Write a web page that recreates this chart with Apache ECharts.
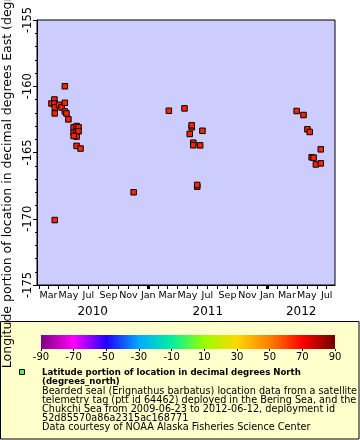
<!DOCTYPE html>
<html><head><meta charset="utf-8">
<script src="https://cdn.jsdelivr.net/npm/echarts@6/dist/echarts.min.js"></script>
<style>html,body{margin:0;padding:0;background:#fff}#c{width:360px;height:440px}</style>
</head><body><div id="c"></div>
<script>
// ---- data ----
const dates = [
  '2010-04-20','2010-03-19','2010-03-10','2010-03-19','2010-03-20','2010-03-20','2010-04-02','2010-04-10',
  '2010-04-20','2010-04-20','2010-04-25','2010-05-01','2010-05-17','2010-05-17','2010-05-26','2010-06-01',
  '2010-05-26','2010-06-01','2010-05-26','2010-05-17','2010-05-26','2010-06-07','2010-03-20','2010-11-17',
  '2011-03-05','2011-04-22','2011-05-14','2011-05-14','2011-05-08','2011-06-16','2011-05-19','2011-05-19',
  '2011-06-09','2011-05-31','2011-05-31',
  '2012-03-31','2012-04-21','2012-05-03','2012-05-10','2012-06-13','2012-05-16','2012-05-22','2012-05-29','2012-06-13'
];
const lons = [
  -160.0,-161.0,-161.3,-161.3,-161.6,-162.05,-161.4,-161.6,
  -161.25,-161.9,-162.05,-162.5,-163.1,-163.5,-163.0,-163.1,
  -163.4,-163.4,-163.8,-163.75,-164.5,-164.7,-170.1,-168.0,
  -161.85,-161.67,-163.1,-162.95,-163.6,-163.36,-164.26,-164.45,
  -164.46,-167.58,-167.45,
  -161.87,-162.17,-163.25,-163.45,-164.76,-165.36,-165.39,-165.9,-165.82
];
const monthNames = ['Jan','Feb','Mar','Apr','May','Jun','Jul','Aug','Sep','Oct','Nov','Dec'];
const years = [2010, 2011, 2012];
const yAxisName = 'Longitude portion of location in decimal degrees East (degrees_east)';
const legendTitle = ['Latitude portion of location in decimal degrees North', '(degrees_north)'];
const legendLines = [
  'Bearded seal (Erignathus barbatus) location data from a satellite',
  'telemetry tag (ptt id 64462) deployed in the Bering Sea, and the',
  'Chukchi Sea from 2009-06-23 to 2012-06-12, deployment id',
  '52d85570a86a2315ac168771',
  'Data courtesy of NOAA Alaska Fisheries Science Center'
];
const colorStops = [
  [-90,'#800080'],[-70,'#ff00ff'],[-50,'#2200ff'],[-30,'#00aaff'],[-10,'#00f0a0'],
  [10,'#99ff00'],[30,'#ffd700'],[50,'#ff8000'],[70,'#ff0000'],[90,'#700000']
];

// ---- axis helpers ----
const xMin = Date.UTC(2010,0,24,14);
const xMax = Date.UTC(2012,6,26,14);
const monthTicks = [], labelTicks = [], janTicks = [];
for (let y = 2010; y <= 2012; y++) for (let m = 0; m < 12; m++) {
  const t = Date.UTC(y, m, 1);
  if (t < xMin || t > xMax) continue;
  monthTicks.push(t);
  if (m % 2 === 0) labelTicks.push(t);
  if (m === 0) janTicks.push(t);
}
const yearCenters = years.map(y => (Math.max(Date.UTC(y,0,1), xMin) + Math.min(Date.UTC(y+1,0,1), xMax)) / 2);

const FONT = 'DejaVu Sans';
const chart = echarts.init(document.getElementById('c'), null, {renderer:'canvas'});
const grad = new echarts.graphic.LinearGradient(0,0,1,0, colorStops.map(s => ({offset:(s[0]+90)/180, color:s[1]})));

const graphic = [
  {type:'rect', z:-1, shape:{x:0.5,y:321.5,width:358.5,height:117.5}, style:{fill:'#ffffcc', stroke:'#000', lineWidth:1}},
  {type:'rect', shape:{x:19.5,y:369.5,width:5,height:5}, style:{fill:'#55ee55', stroke:'#000', lineWidth:1}}
];
legendTitle.forEach((t,i) => graphic.push({type:'text', x:42, y:373 + i*9,
  style:{text:t, font:'bold 8.6px "DejaVu Sans"', fill:'#000', textVerticalAlign:'middle'}}));
legendLines.forEach((t,i) => graphic.push({type:'text', x:42, y:391 + i*9,
  style:{text:t, font:'9.7px "DejaVu Sans"', fill:'#000', textVerticalAlign:'middle'}}));

const option = {
  animation: false,
  backgroundColor: '#fff',
  textStyle: {fontFamily: FONT, color: '#000'},
  grid: [
    {left:37, top:20, width:298, height:265, show:true, backgroundColor:'#ccccff', borderColor:'#000', borderWidth:1,
     containLabel:false, outerBoundsMode:'none'},
    {left:41, top:335, width:294, height:14, show:true, backgroundColor:grad, borderWidth:0,
     containLabel:false, outerBoundsMode:'none'}
  ],
  xAxis: [
    {gridIndex:0, type:'value', position:'bottom', min:xMin, max:xMax, splitLine:{show:false},
     axisLine:{lineStyle:{color:'#000'}},
     axisTick:{customValues:monthTicks, length:4, lineStyle:{color:'#000'}},
     axisLabel:{customValues:labelTicks, formatter:v => monthNames[new Date(v).getUTCMonth()],
       fontSize:9.5, margin:6, color:'#000', fontFamily:FONT}},
    {gridIndex:0, type:'value', position:'bottom', min:xMin, max:xMax, splitLine:{show:false},
     axisLine:{show:false},
     axisTick:{customValues:janTicks, length:4, lineStyle:{color:'#000', width:3}},
     axisLabel:{show:false}},
    {gridIndex:0, type:'value', position:'bottom', offset:14, min:xMin, max:xMax, splitLine:{show:false},
     axisLine:{show:false}, axisTick:{show:false},
     axisLabel:{customValues:yearCenters, formatter:v => String(new Date(v).getUTCFullYear()),
       fontSize:12, margin:7, color:'#000', fontFamily:FONT}},
    {gridIndex:1, type:'value', min:-90, max:90, interval:20, splitLine:{show:false},
     axisLine:{show:false}, axisTick:{length:2, lineStyle:{color:'#000'}},
     axisLabel:{fontSize:10, margin:3, color:'#000', fontFamily:FONT}}
  ],
  yAxis: [
    {gridIndex:0, type:'value', min:-175, max:-155, interval:5,
     name:yAxisName, nameLocation:'middle', nameGap:17,
     nameTextStyle:{fontSize:12.5, color:'#000', fontFamily:FONT},
     axisLine:{show:true, lineStyle:{color:'#000'}},
     axisTick:{length:4, lineStyle:{color:'#000'}},
     minorTick:{show:true, splitNumber:5, length:2, lineStyle:{color:'#000'}},
     splitLine:{show:false},
     axisLabel:{rotate:90, fontSize:11.5, margin:3, color:'#000', fontFamily:FONT}},
    {gridIndex:1, type:'value', show:false, min:0, max:1}
  ],
  series: [{
    type:'scatter', xAxisIndex:0, yAxisIndex:0, symbol:'rect', symbolSize:5.5,
    data: dates.map((d,i) => [Date.parse(d), lons[i]]),
    itemStyle:{color:'#ff2200', borderColor:'#000', borderWidth:1, opacity:1},
    emphasis:{disabled:true}
  }],
  graphic: graphic
};
chart.setOption(option);
</script></body></html>
